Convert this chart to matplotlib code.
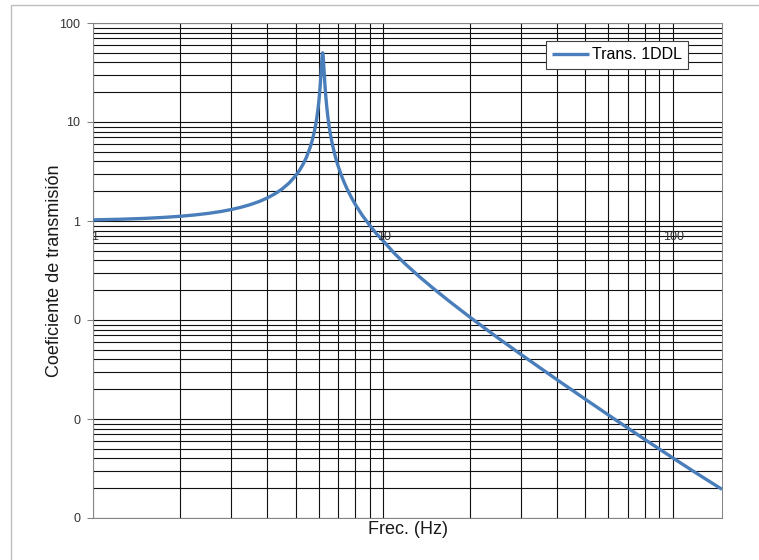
import matplotlib
matplotlib.use("Agg")
import matplotlib.pyplot as plt
from matplotlib.ticker import LogLocator, FuncFormatter, NullFormatter
from matplotlib.patches import Rectangle
import matplotlib.transforms as mtransforms

plt.rcParams['font.family'] = ['Liberation Sans', 'DejaVu Sans']

# Data
freq = [1.0, 1.25, 1.5, 1.75, 2.0, 2.25, 2.5, 2.75, 3.0, 3.25, 3.5, 3.75, 4.0,
        4.25, 4.5, 4.75, 5.0, 5.15, 5.3, 5.45, 5.6, 5.7, 5.8, 5.87, 5.9, 5.95,
        6.0, 6.02, 6.05, 6.09, 6.12, 6.15, 6.17, 6.19, 6.2, 6.21, 6.23, 6.25,
        6.28, 6.31, 6.35, 6.4, 6.45, 6.5, 6.55, 6.6, 6.7, 6.8, 6.9, 7.0, 7.2,
        7.35, 7.5, 7.75, 8.0, 8.5, 9.0, 9.5, 10.0, 11.0, 12.0, 13.5, 15.0, 17.0,
        20.0, 25.0, 30.0, 40.0, 50.0, 60.0, 70.0, 80.0, 100.0, 120.0, 148.0]
trans = [1.027, 1.042, 1.062, 1.087, 1.116, 1.152, 1.194, 1.245, 1.306, 1.379,
         1.468, 1.577, 1.713, 1.886, 2.113, 2.421, 2.861, 3.226, 3.715, 4.40,
         5.43, 6.42, 7.92, 9.50, 10.38, 12.3, 15.07, 16.55, 19.4, 24.8, 30.9,
         39.2, 45.2, 49.4, 50.0, 49.3, 44.8, 38.7, 30.4, 24.3, 18.8, 14.6, 11.8,
         9.87, 8.47, 7.42, 5.92, 4.93, 4.17, 3.64, 2.87, 2.467, 2.16, 1.778,
         1.504, 1.137, 0.91, 0.745, 0.635, 0.466, 0.3644, 0.2673, 0.2063, 0.1537,
         0.1065, 0.0657, 0.0448, 0.02482, 0.01582, 0.010993, 0.008106, 0.00624,
         0.004055, 0.00287, 0.001948]
series_name = "Trans. 1DDL"
xtick_vals = [1, 10, 100]
xtick_labels = ["1", "10", "100"]
ytick_vals = [0.001, 0.01, 0.1, 1, 10, 100]
xlabel = "Frec. (Hz)"
ylabel = "Coeficiente de transmisión"

W, H = 759, 560
fig = plt.figure(figsize=(W / 100, H / 100), dpi=100)
L, R, T, B = 93, 722, 23, 518
ax = fig.add_axes([L / W, 1 - B / H, (R - L) / W, (B - T) / H])

# outer chart frame
fig.patches.append(Rectangle((11 / W, -0.1), 1.2, 1.1 - 5 / H,
                             transform=fig.transFigure, fill=False,
                             edgecolor='#BEBEBE', lw=1.0, clip_on=False))

ax.plot(freq, trans, color='#4A7EBB', lw=2.4, label=series_name, zorder=3,
        solid_joinstyle='round', solid_capstyle='butt')
ax.set_xscale('log')
ax.set_yscale('log')

ax.xaxis.set_major_locator(LogLocator(base=10))
ax.xaxis.set_minor_locator(LogLocator(base=10, subs=range(2, 10)))
ax.yaxis.set_minor_locator(LogLocator(base=10, subs=range(2, 10)))
ax.xaxis.set_major_formatter(NullFormatter())
ax.xaxis.set_minor_formatter(NullFormatter())
ax.yaxis.set_minor_formatter(NullFormatter())
ax.set_yticks(ytick_vals)
ax.yaxis.set_major_formatter(FuncFormatter(lambda v, p: f"{v:.0f}"))
ax.set_xlim(1, 148)
ax.set_ylim(0.001, 100)

ax.grid(True, which='both', color='#111111', lw=0.8)
ax.set_axisbelow(True)
ax.tick_params(axis='x', which='both', length=0)
ax.tick_params(axis='y', which='minor', length=0)
ax.tick_params(axis='y', which='major', length=4, width=0.75, color='#808080',
               labelsize=9, labelcolor='#333333', pad=5)
for s in ax.spines.values():
    s.set_color('#868686')
    s.set_linewidth(0.75)

# x tick labels sit at y = 1 (axis crossing)
off = mtransforms.offset_copy(ax.transData, fig=fig, x=1, y=-7, units='points')
for v, lab in zip(xtick_vals, xtick_labels):
    ax.text(v, 1, lab, transform=off, ha='center', va='top', fontsize=9,
            color='#333333', zorder=4)

ax.set_xlabel(xlabel, fontsize=13, color='#1a1a1a')
ax.set_ylabel(ylabel, fontsize=13, color='#1a1a1a')
ax.xaxis.set_label_coords(0.5, -0.006)
ax.yaxis.set_label_coords(-0.047, 0.5)

leg = ax.legend(loc='upper right', bbox_to_anchor=((688 - L) / (R - L), (B - 41) / (B - T)),
                borderaxespad=0, fancybox=False, framealpha=1, edgecolor='#404040',
                fontsize=11.5, handlelength=2.3, handletextpad=0.15, borderpad=0.4)
leg.get_frame().set_linewidth(0.8)

fig.savefig('out.png', dpi=100)
